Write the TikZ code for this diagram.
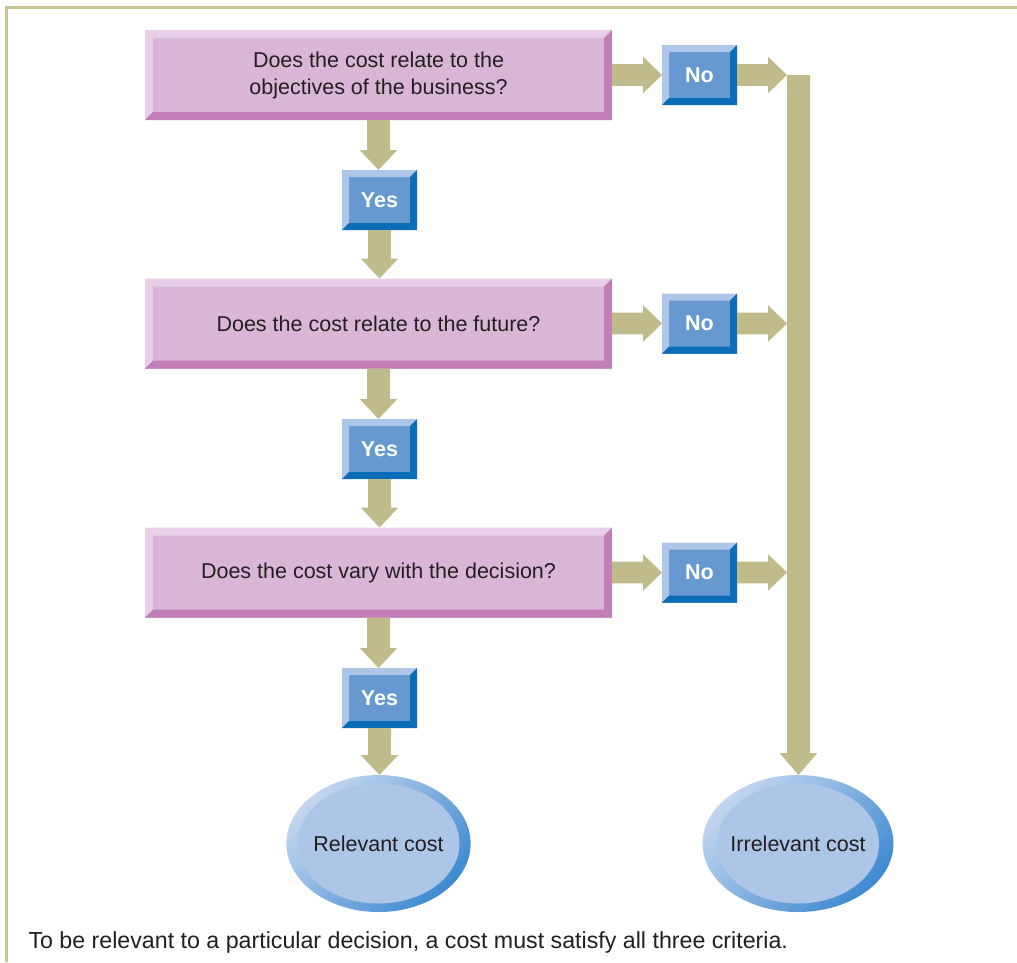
\documentclass[tikz,border=0pt]{standalone}
\usepackage{fontspec}
\setmainfont{Liberation Sans}
\usetikzlibrary{calc,shapes.geometric}

\definecolor{inktext}{HTML}{231F20}
\definecolor{framecol}{HTML}{C9C593}
\definecolor{arrowcol}{HTML}{BFBB8A}
\definecolor{pinkface}{HTML}{D9B6D6}
\definecolor{pinklight}{HTML}{E8CEE6}
\definecolor{pinkdark}{HTML}{C27FB7}
\definecolor{blueface}{HTML}{6699CF}
\definecolor{bluelight}{HTML}{AEC7E8}
\definecolor{bluedark}{HTML}{0B6DB8}
\definecolor{ovalface}{HTML}{ADC5E6}
\definecolor{ovallight}{HTML}{C4D6EF}
\definecolor{ovaldark}{HTML}{3E8AD2}

% Fat block arrow pointing down: shaft from #2 to the tip at #3
\newcommand\fatdown[3][20pt]{%
  \fill[arrowcol] let \p1=(#2), \p2=(#3) in
    (\x1-11.5pt,\y1) -- (\x1+11.5pt,\y1) -- (\x1+11.5pt,\y2+#1) --
    (\x1+18.8pt,\y2+#1) -- (\x1,\y2) -- (\x1-18.8pt,\y2+#1) --
    (\x1-11.5pt,\y2+#1) -- cycle;}
% Fat block arrow pointing right: shaft from #2 to the tip at #3
\newcommand\fatright[3][19pt]{%
  \fill[arrowcol] let \p1=(#2), \p2=(#3) in
    (\x1,\y1+10.8pt) -- (\x2-#1,\y1+10.8pt) -- (\x2-#1,\y1+18.3pt) --
    (\x2,\y1) -- (\x2-#1,\y1-18.3pt) -- (\x2-#1,\y1-10.8pt) --
    (\x1,\y1-10.8pt) -- cycle;}

\tikzset{
  bevel/.style n args={4}{% face, light edge, dark edge, bevel width
    rectangle, inner sep=0pt, outer sep=0pt, fill=#1,
    path picture={
      \fill[#2] (path picture bounding box.north west) -- (path picture bounding box.north east)
        -- ([shift={(-#4,-#4)}]path picture bounding box.north east)
        -- ([shift={(#4,-#4)}]path picture bounding box.north west) -- cycle;
      \fill[#2] (path picture bounding box.north west) -- (path picture bounding box.south west)
        -- ([shift={(#4,#4)}]path picture bounding box.south west)
        -- ([shift={(#4,-#4)}]path picture bounding box.north west) -- cycle;
      \fill[#3] (path picture bounding box.south west) -- (path picture bounding box.south east)
        -- ([shift={(-#4,#4)}]path picture bounding box.south east)
        -- ([shift={(#4,#4)}]path picture bounding box.south west) -- cycle;
      \fill[#3] (path picture bounding box.north east) -- (path picture bounding box.south east)
        -- ([shift={(-#4,#4)}]path picture bounding box.south east)
        -- ([shift={(-#4,-#4)}]path picture bounding box.north east) -- cycle;
    }},
  qbox/.style={bevel={pinkface}{pinklight}{pinkdark}{8pt},
    minimum width=467pt, minimum height=90pt, align=center,
    text=inktext, font=\fontsize{21.5}{27}\selectfont},
  ansbox/.style={bevel={blueface}{bluelight}{bluedark}{7pt},
    minimum width=75pt, minimum height=60pt,
    text=white, font=\fontsize{21.5}{26}\selectfont\bfseries},
  outcome/.style={ellipse, inner sep=0pt, outer sep=0pt,
    minimum width=179pt, minimum height=137pt,
    left color=ovallight, right color=ovaldark, shading angle=45,
    path picture={\fill[ovalface] (path picture bounding box.center)
      ellipse [x radius=81pt, y radius=60pt];},
    text=inktext, font=\fontsize{21.5}{26}\selectfont},
}

\begin{document}
\begin{tikzpicture}[x=1pt,y=-1pt]
\useasboundingbox (0,0) rectangle (1017,962);

% frame
\draw[framecol, line width=3pt] (6,962) -- (6,7) -- (1017,7);

% questions
\node[qbox] (q1) at (378.5,75)    {Does the cost relate to the\\objectives of the business?};
\node[qbox] (q2) at (378.5,323.5) {Does the cost relate to the future?};
\node[qbox] (q3) at (378.5,572.5) {Does the cost vary with the decision?};

% answers
\node[ansbox] (y1) at (379.5,200) {Yes};
\node[ansbox] (y2) at (379.5,449) {Yes};
\node[ansbox] (y3) at (379.5,698) {Yes};
\node[ansbox] (n1) at (699.5,75)    {No};
\node[ansbox] (n2) at (699.5,323.5) {No};
\node[ansbox] (n3) at (699.5,572.5) {No};

% outcomes
\node[outcome] (rel) at (378.5,843.5) {Relevant cost};
\node[outcome] (irr) at (798,843.5) {Irrelevant cost};

% collector bar and where the No arrows meet it
\coordinate (bartop) at (798.5,75);
\coordinate (j1) at (787,75);
\coordinate (j2) at (787,323.5);
\coordinate (j3) at (787,572.5);

% Yes path
\fatdown{q1.south}{y1.north}
\fatdown{y1.south}{q2.north}
\fatdown{q2.south}{y2.north}
\fatdown{y2.south}{q3.north}
\fatdown{q3.south}{y3.north}
\fatdown{y3.south}{rel.north}

% No path
\fatright{q1.east}{n1.west}
\fatright{q2.east}{n2.west}
\fatright{q3.east}{n3.west}
\fatright{n1.east}{j1}
\fatright{n2.east}{j2}
\fatright{n3.east}{j3}
\fatdown[22pt]{bartop}{irr.north}

% caption
\node[anchor=base west, text=inktext, font=\fontsize{23.2}{28}\selectfont] (caption) at (25,948)
  {To be relevant to a particular decision, a cost must satisfy all three criteria.};
\end{tikzpicture}
\end{document}
